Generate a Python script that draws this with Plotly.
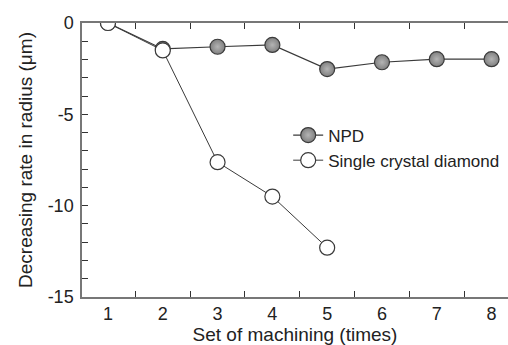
import plotly.graph_objects as go

sets = [1, 2, 3, 4, 5, 6, 7, 8]
npd = [0, -1.42, -1.3, -1.2, -2.52, -2.15, -1.98, -1.98]
scd_sets = [1, 2, 3, 4, 5]
scd = [0, -1.5, -7.62, -9.5, -12.3]
x_tick_marks = [1.5, 2.5, 3.5, 4.5, 5.5, 6.5, 7.5]
y_tickvals = [0, -5, -10, -15]
y_ticktext = ["0", "-5", "-10", "-15"]

fig = go.Figure()
fig.add_trace(go.Scatter(
    x=sets, y=npd, mode="lines+markers", name="NPD",
    line=dict(color="#3a3a3a", width=1.2),
    marker=dict(size=15, color="#808080",
                gradient=dict(type="radial", color="#b4b4b4"),
                line=dict(color="#3a3a3a", width=1.2)),
))
fig.add_trace(go.Scatter(
    x=scd_sets, y=scd, mode="lines+markers", name="Single crystal diamond",
    line=dict(color="#3a3a3a", width=1),
    marker=dict(size=15, color="white", line=dict(color="#3a3a3a", width=1.2)),
))
fig.add_trace(go.Scatter(x=sets, y=npd, xaxis="x2", mode="markers",
                         marker=dict(opacity=0), showlegend=False, hoverinfo="skip"))

font = "Liberation Sans, Arial, Helvetica, sans-serif"
xr = [0.526, 8.3]
fig.update_layout(
    width=508, height=345,
    margin=dict(l=82, r=0, t=23, b=48, autoexpand=False),
    paper_bgcolor="white", plot_bgcolor="white",
    font=dict(family=font, size=18, color="#222"),
    showlegend=True,
    legend=dict(x=0.484, y=0.655, xanchor="left", yanchor="top",
                bgcolor="rgba(0,0,0,0)", font=dict(size=17, color="#222"),
                tracegroupgap=0, itemwidth=30),
    xaxis=dict(
        range=xr, tickvals=sets, ticks="", tickfont=dict(size=18),
        ticklabelstandoff=0,
        automargin=False, showgrid=False, zeroline=False,
        showline=True, linecolor="#777", linewidth=1.5, mirror=True,
        title=dict(text="Set of machining (times)", font=dict(size=19), standoff=13),
    ),
    xaxis2=dict(
        range=xr, overlaying="x", anchor="y", side="bottom",
        tickmode="array", tickvals=x_tick_marks, showticklabels=False,
        ticks="inside", ticklen=6, tickcolor="#333", tickwidth=1.2,
        mirror="allticks", showline=True, linecolor="#777", linewidth=1.5,
        showgrid=False, zeroline=False, automargin=False,
    ),
    yaxis=dict(
        range=[-15, 0], tickvals=y_tickvals, ticktext=y_ticktext,
        ticks="inside", ticklen=6, tickcolor="#333", tickwidth=1.2,
        minor=dict(dtick=1, ticks="inside", ticklen=6, tickcolor="#333",
                   tickwidth=1.2, showgrid=False),
        showgrid=False, zeroline=False, automargin=False,
        showline=True, linecolor="#777", linewidth=1.5,
        ticklabelstandoff=3,
        title=dict(text="Decreasing rate in radius (μm)", font=dict(size=19), standoff=10),
        tickfont=dict(size=18),
    ),
)
fig.write_html("out.html", config={"displayModeBar": False},
               post_script="document.body.style.margin='0px';")
